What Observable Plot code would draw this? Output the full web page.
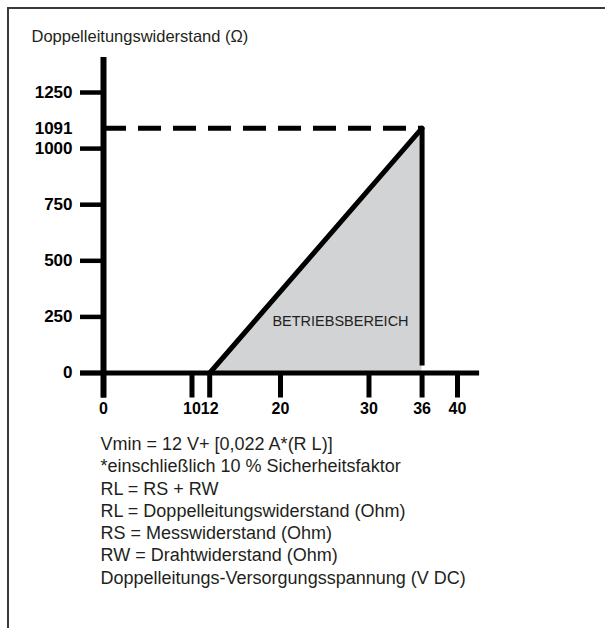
<!DOCTYPE html>
<html>
<head>
<meta charset="utf-8">
<script src="https://cdn.jsdelivr.net/npm/d3@7"></script>
<script src="https://cdn.jsdelivr.net/npm/@observablehq/plot@0.6"></script>
<style>
  html, body { margin: 0; padding: 0; background: #fff; }
  #wrap { position: relative; width: 605px; height: 628px; overflow: hidden; font-family: "Liberation Sans", Arial, sans-serif; }
  #frame { position: absolute; left: 7px; top: 7px; right: -10px; bottom: -10px; border-top: 2px solid #3a3a3a; border-left: 2px solid #3a3a3a; pointer-events: none; }
  #title { position: absolute; left: 31.5px; top: 25.5px; font-size: 16.5px; line-height: 20px; color: #231f20; white-space: nowrap; }
  #notes { position: absolute; left: 100.5px; top: 433px; font-size: 18px; line-height: 22.3px; color: #231f20; white-space: nowrap; }
  #chart { position: absolute; left: 0; top: 0; }
</style>
</head>
<body>
<div id="wrap">
  <div id="chart"></div>
  <div id="title"></div>
  <div id="notes"></div>
  <div id="frame"></div>
</div>
<script>
// ---- data ----
const yTitle = "Doppelleitungswiderstand (Ω)";
const xTicks = [0, 10, 12, 20, 30, 36, 40];
const yTicks = [0, 250, 500, 750, 1000, 1250];
const vMin = 12;          // V DC at 0 Ω
const vMax = 36;          // V DC maximum
const rMax = 1091;        // Ω at 36 V
const operatingRegion = [
  {v: vMin, r: 0},
  {v: vMax, r: rMax}
];
const regionLabel = "BETRIEBSBEREICH";
const notes = [
  "Vmin = 12 V+ [0,022 A*(R L)]",
  "*einschließlich 10 % Sicherheitsfaktor",
  "RL = RS + RW",
  "RL = Doppelleitungswiderstand (Ohm)",
  "RS = Messwiderstand (Ohm)",
  "RW = Drahtwiderstand (Ohm)",
  "Doppelleitungs-Versorgungsspannung (V DC)"
];

document.getElementById("title").textContent = yTitle;
document.getElementById("notes").innerHTML = notes.map(t => `<div>${t}</div>`).join("");

const ink = "#000";
const fmt = d => String(d);
const chart = Plot.plot({
  width: 605,
  height: 420,
  marginLeft: 103,
  marginRight: 125.9,
  marginTop: 57,
  marginBottom: 47.5,
  style: {background: "transparent", fontFamily: "'Liberation Sans', Arial, sans-serif", color: ink},
  x: {domain: [0, 42.5], label: null},
  y: {domain: [0, 1406], label: null},
  marks: [
    Plot.areaY(operatingRegion, {x: "v", y: "r", fill: "#d1d3d4"}),
    Plot.text([regionLabel], {x: vMax, y: 250, text: d => d, textAnchor: "end", dx: -13.5, dy: 4.5, fontSize: 14.5, fill: "#231f20"}),
    Plot.ruleY([rMax], {x1: 0, x2: vMax, stroke: ink, strokeWidth: 5, strokeDasharray: "23,12"}),
    Plot.line(operatingRegion, {x: "v", y: "r", stroke: ink, strokeWidth: 5}),
    Plot.ruleX([vMax], {y1: 0, y2: rMax, stroke: ink, strokeWidth: 5, insetTop: -7}),
    Plot.ruleX([0], {stroke: ink, strokeWidth: 6, insetBottom: -25}),
    Plot.ruleY([0], {stroke: ink, strokeWidth: 5, insetLeft: -23}),
    Plot.axisY(yTicks, {anchor: "left", label: null, tickFormat: fmt, tickSize: 23, tickPadding: 8, strokeWidth: 4.5, stroke: ink, fill: ink, fontSize: 17, fontWeight: "bold"}),
    Plot.text([rMax], {x: 0, y: d => d, text: d => String(d), textAnchor: "end", dx: -31, fontSize: 17, fontWeight: "bold", fill: ink}),
    Plot.axisX(xTicks, {anchor: "bottom", label: null, tickFormat: fmt, tickSize: 25, tickPadding: 5, strokeWidth: 5, stroke: ink, fill: ink, fontSize: 16, fontWeight: "bold", letterSpacing: "-0.3px"})
  ]
});
document.getElementById("chart").appendChild(chart);
</script>
</body>
</html>
